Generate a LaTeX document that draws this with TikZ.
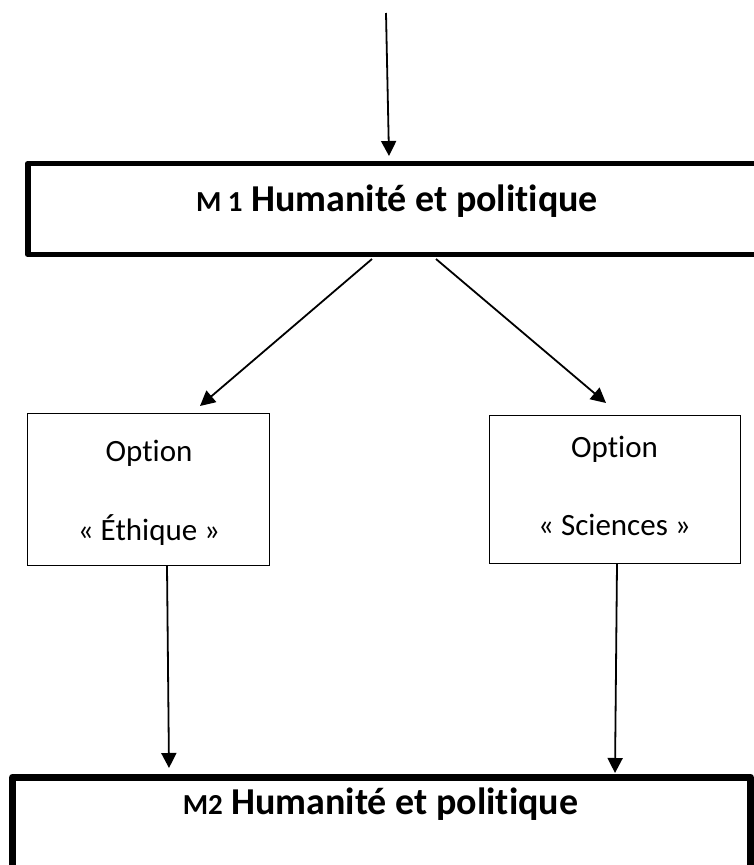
\documentclass[tikz,border=0pt]{standalone}
\usepackage{fontspec}
\setmainfont{Carlito}[Ligatures=NoCommon]
\usetikzlibrary{arrows.meta}
\begin{document}
\begin{tikzpicture}[x=1pt,y=-1pt,
  bigbox/.style={draw, inner sep=0pt, outer sep=0pt, anchor=north west, line join=round},
  optbox/.style={draw, line width=1.3pt, inner sep=0pt, outer sep=0pt, anchor=north west},
  conn/.style={line width=1.8pt, -{Triangle[length=15pt,width=15pt]}},
  opttext/.style={font=\fontsize{31}{37}\selectfont, anchor=base, inner sep=0pt},
  titletext/.style={font=\bfseries\fontsize{38}{44}\selectfont, anchor=base, inner sep=0pt}]
\useasboundingbox (0,0) rectangle (754,865);
% boxes
\node[bigbox, line width=5.7pt, minimum width=800pt, minimum height=91pt] (m1) at (27.8,163.6) {};
\node[optbox, minimum width=242pt, minimum height=152pt] (eth) at (27.5,413.5) {};
\node[optbox, minimum width=251pt, minimum height=148pt] (sci) at (489.5,415.5) {};
\node[bigbox, line width=7pt, minimum width=737.5pt, minimum height=200pt] (m2) at (12.8,777) {};
% texts
\node[titletext] (m1t) at (397,211) {{\fontsize{29}{34}\selectfont M 1} Humanité et politique};
\node[titletext] (m2t) at (380.5,814) {{\fontsize{29}{34}\selectfont M2} Humanité et politique};
\node[opttext] (eth1) at (149,461) {Option};
\node[opttext] (eth2) at (149,540) {« Éthique »};
\node[opttext] (sci1) at (614.5,457) {Option};
\node[opttext] (sci2) at (614.5,535) {« Sciences »};
% connector end points
\coordinate (start) at (386,13);
\coordinate (m1in) at (389,156);
\coordinate (m1l) at (372,259);
\coordinate (m1r) at (436,259);
\coordinate (ethin) at (200,406);
\coordinate (sciin) at (606,403);
\coordinate (ethout) at (167,566);
\coordinate (sciout) at (617,564);
\coordinate (m2l) at (169,768);
\coordinate (m2r) at (615,773);
% connectors
\draw[conn] (start) -- (m1in);
\draw[conn] (m1l) -- (ethin);
\draw[conn] (m1r) -- (sciin);
\draw[conn] (ethout) -- (m2l);
\draw[conn] (sciout) -- (m2r);
\end{tikzpicture}
\end{document}
